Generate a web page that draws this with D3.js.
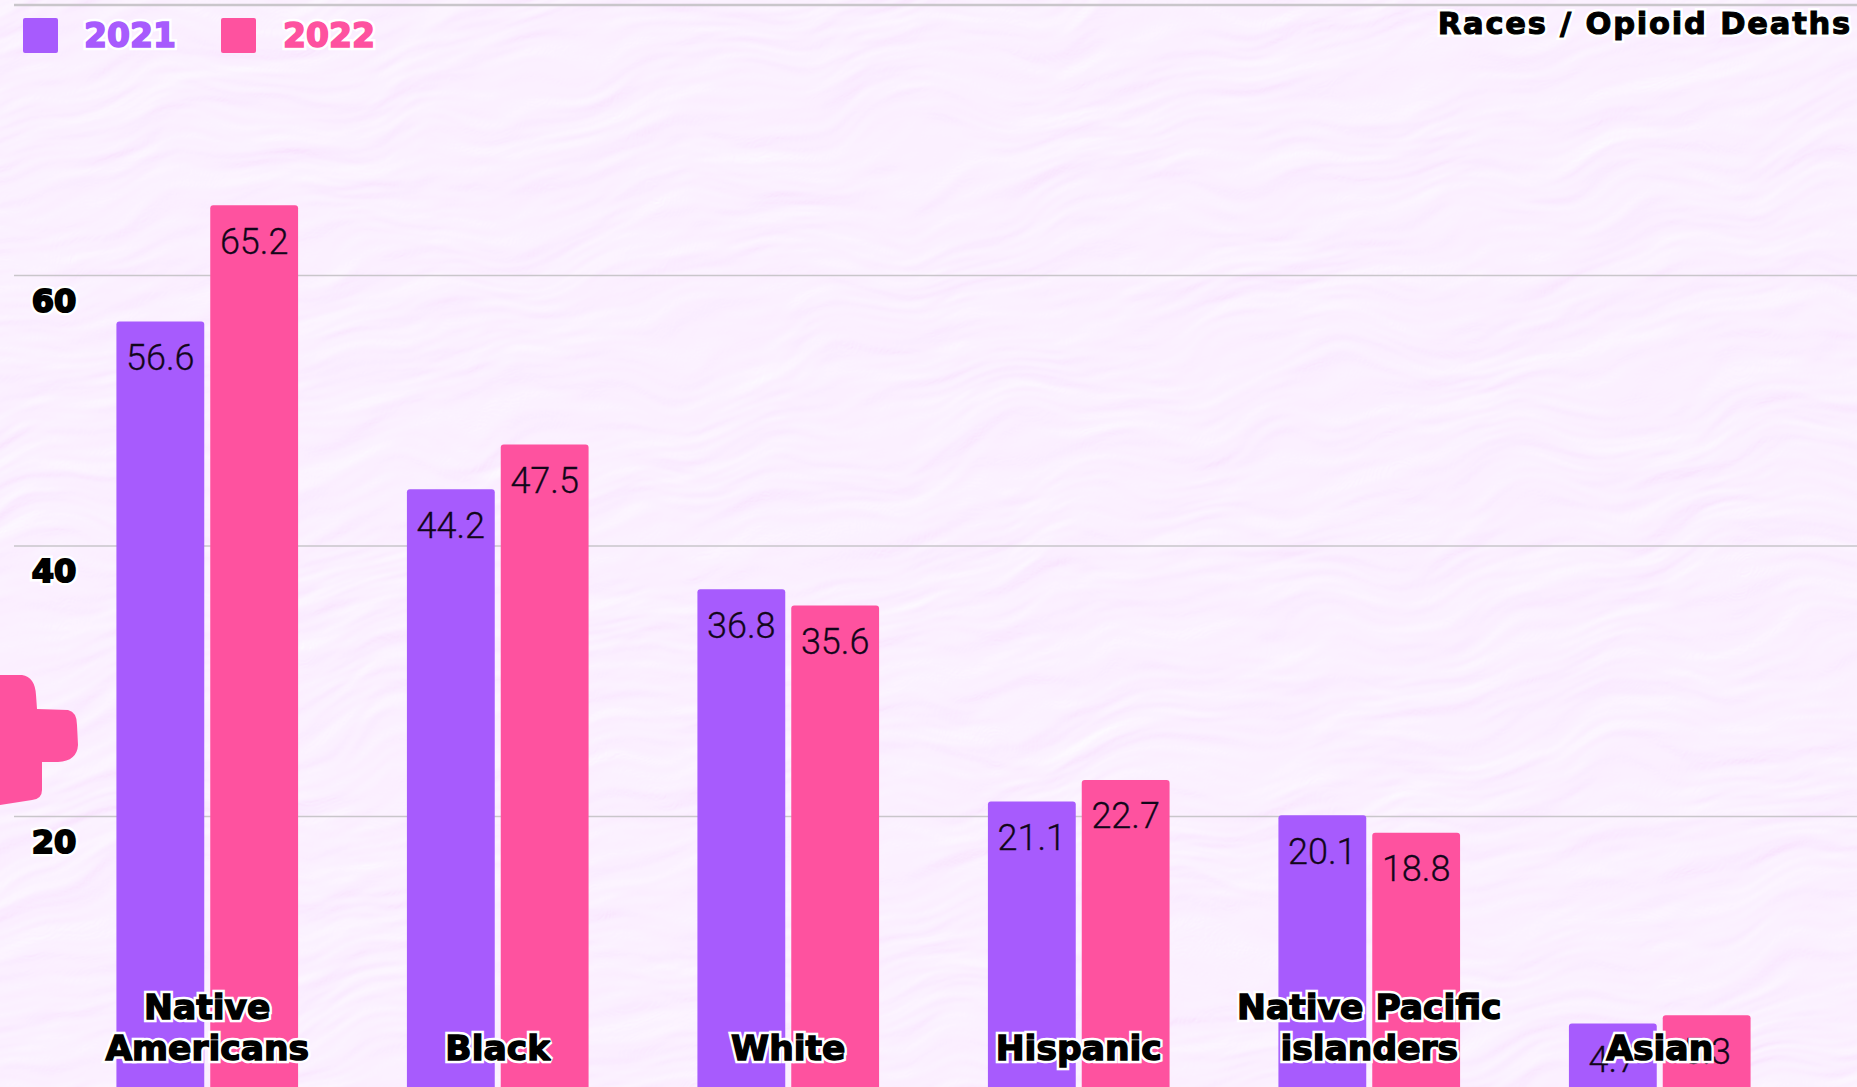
<!DOCTYPE html>
<html><head><meta charset="utf-8">
<script src="https://cdn.jsdelivr.net/npm/d3@7"></script>
<style>html,body{margin:0;padding:0;background:#faf0fe;overflow:hidden}svg{display:block}</style>
</head><body><svg id="c" width="1857" height="1087"></svg>
<script>
const categories = ["Native Americans","Black","White","Hispanic","Native Pacific islanders","Asian"];
const categoryLines = [["Native","Americans"],["Black"],["White"],["Hispanic"],["Native Pacific","islanders"],["Asian"]];
const years = ["2021","2022"];
const values2021 = [56.6,44.2,36.8,21.1,20.1,4.7];
const values2022 = [65.2,47.5,35.6,22.7,18.8,5.3];
const yTicks = [20,40,60,80];
const title = "Races / Opioid Deaths";
const colors = {"2021":"#a75bfd","2022":"#fe529f"};

const W=1857,H=1087;
const svg=d3.select("#c");
const defs=svg.append("defs");
const f=defs.append("filter").attr("id","paper").attr("x",0).attr("y",0).attr("width","100%").attr("height","100%").attr("color-interpolation-filters","sRGB");
f.append("feTurbulence").attr("type","fractalNoise").attr("baseFrequency","0.007 0.028").attr("numOctaves",3).attr("seed",11).attr("result","n");
f.append("feTurbulence").attr("type","fractalNoise").attr("baseFrequency","0.006").attr("numOctaves",2).attr("seed",4).attr("result","w");
f.append("feDisplacementMap").attr("in","n").attr("in2","w").attr("scale",90).attr("xChannelSelector","R").attr("yChannelSelector","G").attr("result","d");
const li=f.append("feDiffuseLighting").attr("in","d").attr("surfaceScale",1.0).attr("lighting-color","#ffffff").attr("diffuseConstant",1).attr("result","l");
li.append("feDistantLight").attr("azimuth",250).attr("elevation",71);
f.append("feColorMatrix").attr("in","l").attr("type","matrix")
 .attr("values","0.2 0 0 0 0.795  1.0 0 0 0 -0.004  0.15 0 0 0 0.86  0 0 0 0 1");
svg.append("rect").attr("x",-300).attr("y",-500).attr("width",2500).attr("height",2100)
  .attr("transform","rotate(-10 928 543)").attr("fill","#faf0fe").attr("filter","url(#paper)");

const y=d3.scaleLinear().domain([0,80]).range([1087,5]);
const x0=d3.scaleBand().domain(categories).range([62,1805]);
const x1=d3.scaleBand().domain(years).range([0,x0.bandwidth()]).paddingInner(0.064).paddingOuter(0.58);

// grid
svg.append("g").selectAll("line").data(yTicks).join("line")
  .attr("x1",14).attr("x2",W).attr("y1",d=>y(d)).attr("y2",d=>y(d))
  .attr("stroke","#c9c6cb").attr("stroke-width",d=>d===80?2.5:1.6);

// decoration
svg.append("path").attr("fill",colors["2022"])
 .attr("d","M0,675 L22,675 Q35,677 36,695 L37,709 L68,710 Q77,712 77,725 L78,745 Q77,761 58,762 L42,762 L42,790 Q42,799 32,800 L0,805 Z");

// bars
const series=[{year:"2021",vals:values2021},{year:"2022",vals:values2022}];
const bars=svg.append("g");
series.forEach(s=>{
  const g=bars.append("g");
  g.selectAll("path").data(s.vals).join("path").attr("fill",colors[s.year])
   .attr("d",(v,i)=>{
     const X=x0(categories[i])+x1(s.year),w=x1.bandwidth(),t=y(v),r=3;
     return `M${X},${H+20}V${t+r}Q${X},${t} ${X+r},${t}H${X+w-r}Q${X+w},${t} ${X+w},${t+r}V${H+20}Z`;
   });
  g.selectAll("text").data(s.vals).join("text")
   .attr("x",(v,i)=>x0(categories[i])+x1(s.year)+x1.bandwidth()/2)
   .attr("y",v=>y(v)+48.5).attr("text-anchor","middle")
   .attr("font-family","Roboto").attr("font-weight",300).attr("font-size",36).attr("fill","#12061a")
   .attr("stroke","#12061a").attr("stroke-width",0.3)
   .text(v=>v);
});

function label(parent,txt,xp,yp,anchor,size,fill,sw,ls){
  const g=parent.append("g");
  [["#fff",sw+5],[fill,sw]].forEach(([c,w])=>{
    g.append("text").attr("x",xp).attr("y",yp).attr("text-anchor",anchor)
     .attr("font-family","'DejaVu Sans'").attr("font-weight",700).attr("font-size",size)
     .attr("letter-spacing",ls||0).attr("fill",c).attr("stroke",c).attr("stroke-width",w)
     .attr("stroke-linejoin","miter").attr("stroke-miterlimit",2).text(txt);
  });
}
// y tick labels
yTicks.filter(d=>d<80).forEach(d=>label(svg,d,54,y(d)+36,"middle",32,"#000",2,0));
// category labels
const lab=svg.append("g");
categoryLines.forEach((lines,i)=>{
  const cx=x0(categories[i])+x0.bandwidth()/2;
  const n=lines.length;
  lines.forEach((l,j)=>label(lab,l,cx,1060-(n-1-j)*41,"middle",34.5,"#000",1.4,0));
});
// title
label(svg,title,1852,34,"end",30.5,"#000",1.1,1.8);
// legend
const legendX={"2021":[23,84],"2022":[221,283]};
years.forEach(yr=>{
  svg.append("rect").attr("x",legendX[yr][0]).attr("y",18).attr("width",35).attr("height",35).attr("rx",2).attr("fill",colors[yr]);
  label(svg,yr,legendX[yr][1],47,"start",33,colors[yr],1.6,0);
});
</script></body></html>
